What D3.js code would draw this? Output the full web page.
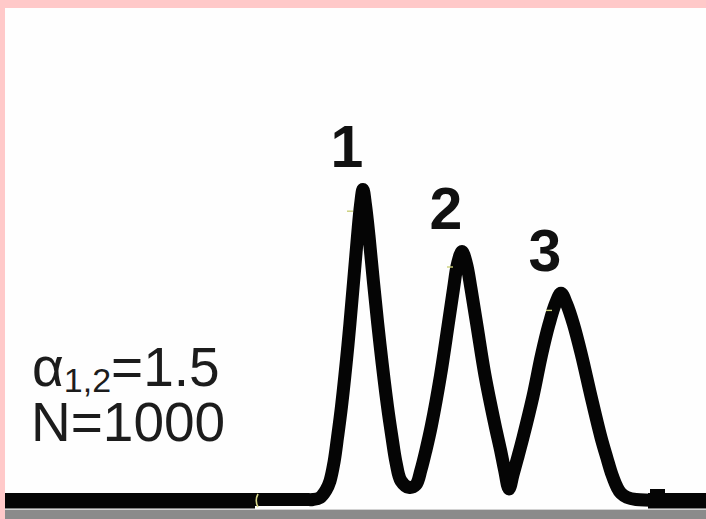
<!DOCTYPE html>
<html>
<head>
<meta charset="utf-8">
<script src="https://cdn.jsdelivr.net/npm/d3@7"></script>
<style>
  html, body { margin: 0; padding: 0; background: #fefefe; }
  svg { display: block; }
</style>
</head>
<body>
<svg id="chart" width="706" height="519"></svg>
<script>
// Detector trace: retention time (min) and signal (relative units)
const time = [
  0, 5.0, 6.0, 6.16, 6.30, 6.42, 6.50, 6.58, 6.65, 6.73, 6.86, 6.97, 7.05, 7.11,
  7.16,
  7.21, 7.28, 7.37, 7.50, 7.65, 7.74, 7.82, 7.92,
  8.08,
  8.22, 8.32, 8.42, 8.53, 8.71, 8.86, 8.97, 9.05,
  9.14,
  9.23, 9.32, 9.44, 9.60, 9.80, 9.91, 9.99,
  10.08,
  10.16, 10.25, 10.36, 10.56, 10.73, 10.88, 11.01,
  11.12,
  11.23, 11.37, 11.53, 11.72, 11.92, 12.04, 12.14, 12.24, 12.32, 12.44, 12.62, 14.0
];
const signal = [
  0, 0, 0, 0, 0.6, 3.0, 6.0, 12.0, 20.0, 30.0, 50.0, 70.0, 85.0, 95.0,
  100,
  95.0, 85.0, 70.0, 50.0, 30.0, 20.0, 12.0, 6.0,
  3.9,
  4.8, 9.6, 16.0, 24.0, 40.0, 56.0, 68.0, 76.0,
  80,
  76.0, 68.0, 56.0, 40.0, 24.0, 16.0, 9.6,
  3.4,
  8.0, 13.3, 20.0, 33.3, 46.6, 56.5, 63.2,
  66.5,
  63.2, 56.5, 46.6, 33.3, 20.0, 13.3, 8.0, 4.0, 2.0, 0.7, 0, 0
];

// Peaks and their numbers
const peakLabels = ["1", "2", "3"];
const peakTimes = [7.16, 9.14, 11.12];
const peakHeights = [100, 80, 66.5];

// Recorder marks along the baseline
const injectionTime = 5.02;
const endMarkTime = 13.05;
const heavyBaseline = [[0, 5.0], [12.86, 14.02]];

// Apex pen ticks
const apexTicks = [[6.9, 93], [8.9, 75], [10.88, 61]];

// Annotation text
const alphaSymbol = "α";
const alphaSub = "1,2";
const alphaValue = "=1.5";
const plateText = "N=1000";

const W = 706, H = 519;
const svg = d3.select("#chart");

// frame: pink edge top and left, grey strip at the bottom
svg.append("rect").attr("x", 0).attr("y", 0).attr("width", W).attr("height", H).attr("fill", "#fefefe");
svg.append("rect").attr("x", 0).attr("y", 509).attr("width", W).attr("height", 1).attr("fill", "#d2d2d2");
svg.append("rect").attr("x", 0).attr("y", 510).attr("width", W).attr("height", 9).attr("fill", "#8b8b8b");
svg.append("rect").attr("x", 0).attr("y", 0).attr("width", W).attr("height", 8).attr("fill", "#ffc9c9");
svg.append("rect").attr("x", 0).attr("y", 0).attr("width", 5).attr("height", H).attr("fill", "#ffc9c9");

const x = d3.scaleLinear().domain([0, 14]).range([5, 705]);
const y = d3.scaleLinear().domain([0, 100]).range([499.5, 189.5]);

const pts = time.map((t, i) => [t, signal[i]]);
const line = d3.line()
  .x(d => x(d[0]))
  .y(d => y(d[1]))
  .curve(d3.curveCatmullRom.alpha(0.5));

svg.append("path")
  .datum(pts)
  .attr("d", line)
  .attr("fill", "none")
  .attr("stroke", "#050505")
  .attr("stroke-width", 13)
  .attr("stroke-linejoin", "round")
  .attr("stroke-linecap", "butt");

// heavier baseline sections
svg.selectAll("rect.base")
  .data(heavyBaseline)
  .join("rect")
  .attr("class", "base")
  .attr("x", d => x(d[0]))
  .attr("width", d => x(d[1]) - x(d[0]))
  .attr("y", 493)
  .attr("height", 15.5)
  .attr("fill", "#050505");

// end-of-run square mark
svg.append("rect")
  .attr("x", x(endMarkTime) - 7.5)
  .attr("width", 15)
  .attr("y", 489)
  .attr("height", 19)
  .attr("fill", "#050505");

// injection tick
const ix = x(injectionTime);
svg.append("path")
  .attr("d", `M${ix + 2},494 Q${ix - 1.5},500.5 ${ix + 2},507`)
  .attr("fill", "none")
  .attr("stroke", "#d9d98a")
  .attr("stroke-width", 1.6);

// small pen ticks near the apexes
svg.selectAll("line.tick")
  .data(apexTicks)
  .join("line")
  .attr("class", "tick")
  .attr("x1", d => x(d[0]) - 3)
  .attr("x2", d => x(d[0]) + 3)
  .attr("y1", d => y(d[1]))
  .attr("y2", d => y(d[1]))
  .attr("stroke", "#c9cf78")
  .attr("stroke-width", 1.4);

// peak numbers
svg.selectAll("text.peak")
  .data(peakLabels)
  .join("text")
  .attr("class", "peak")
  .attr("x", (d, i) => x(peakTimes[i]) - 16)
  .attr("y", (d, i) => y(peakHeights[i]) - 22.5)
  .attr("text-anchor", "middle")
  .attr("font-family", "'Liberation Sans', Arial, sans-serif")
  .attr("font-weight", "bold")
  .attr("font-size", 59)
  .attr("fill", "#111")
  .text(d => d);

// separation factor and plate number
const font = "'Liberation Sans', Arial, sans-serif";
const alphaLine = svg.append("text")
  .attr("x", 32).attr("y", 386)
  .attr("font-family", font)
  .attr("font-size", 55)
  .attr("fill", "#1c1c1c");
alphaLine.append("tspan").text(alphaSymbol);
alphaLine.append("tspan").attr("font-size", 34).attr("dy", 6).text(alphaSub);
alphaLine.append("tspan").attr("dy", -6).text(alphaValue);

svg.append("text")
  .attr("x", 31).attr("y", 441)
  .attr("font-family", font)
  .attr("font-size", 55)
  .attr("fill", "#1c1c1c")
  .text(plateText);
</script>
</body>
</html>
